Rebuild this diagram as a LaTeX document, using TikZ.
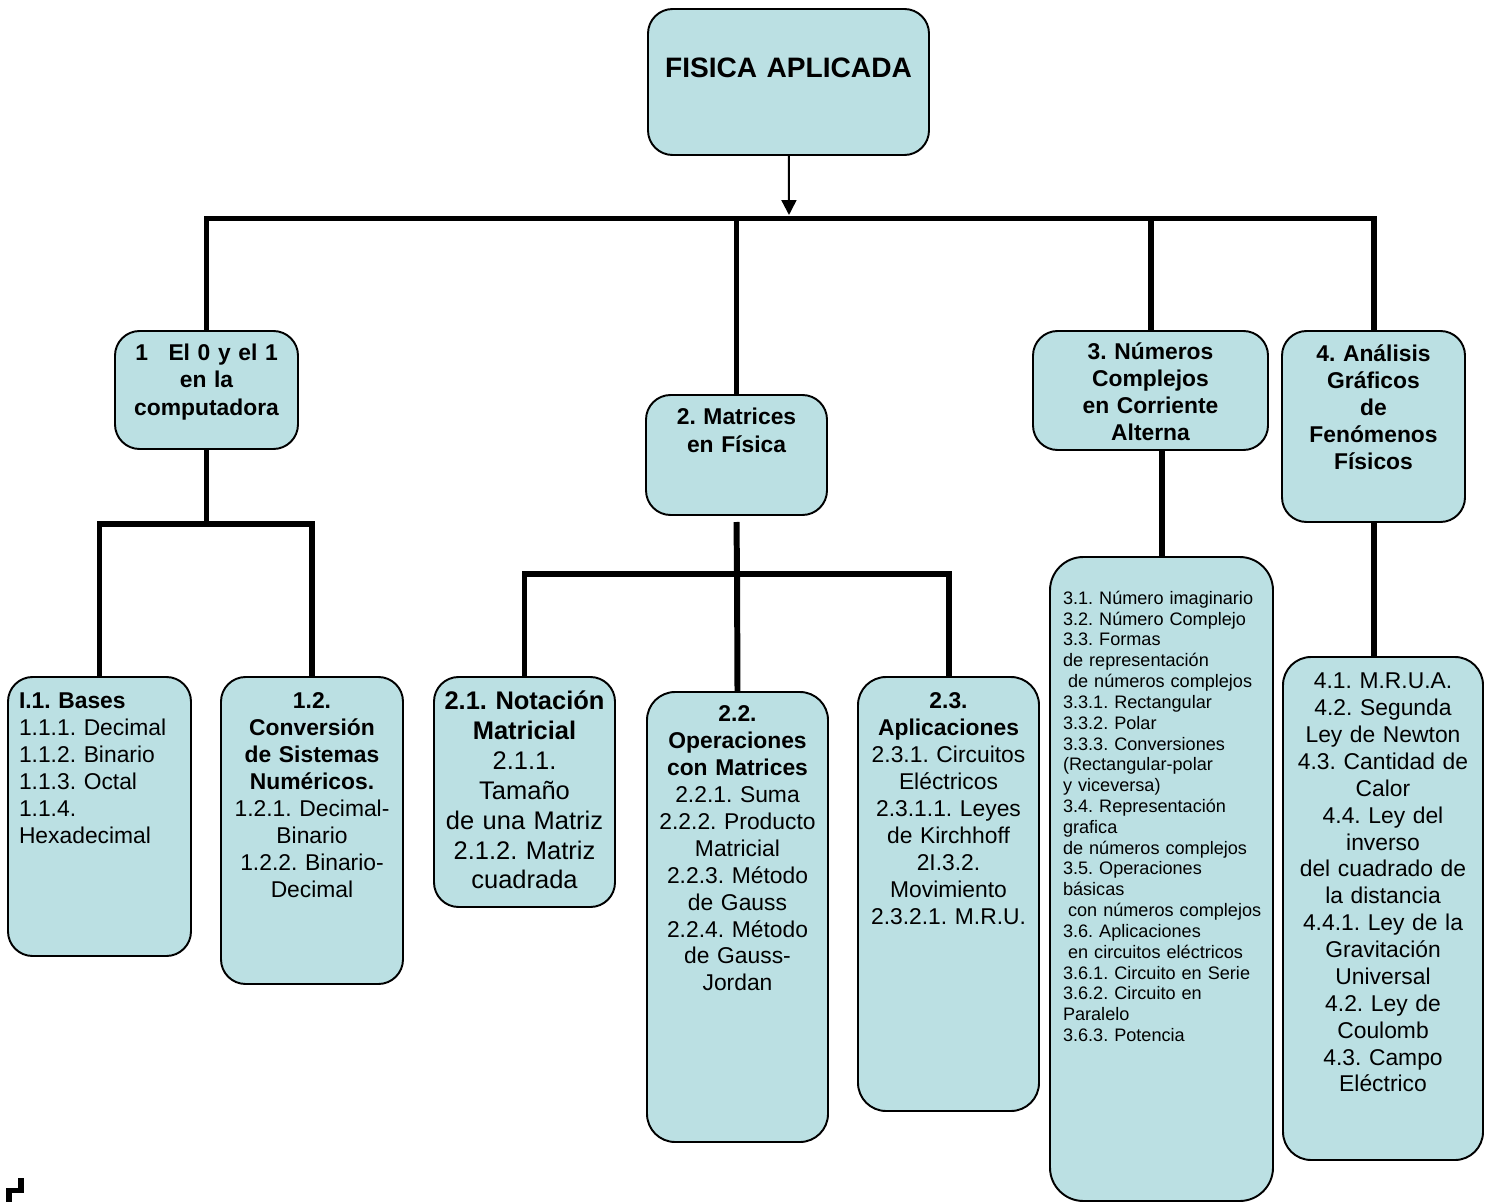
\documentclass[tikz,border=0pt]{standalone}
\usepackage{fontspec}
\setmainfont{Liberation Sans}
\usetikzlibrary{arrows.meta,fit,calc,positioning}
\definecolor{boxfill}{RGB}{187,224,227}
\frenchspacing
\begin{document}
\begin{tikzpicture}[x=0.02cm,y=-0.02cm,inner sep=0pt,outer sep=0pt,
box/.style={draw,line width=1.1pt,fill=boxfill,rounded corners=14pt,inner sep=0pt},
txt/.style={anchor=north,align=center,text width=4.4cm,font=\fontsize{13}{15.3}\selectfont},
txtl/.style={anchor=north west,align=left,text width=4.4cm,font=\fontsize{13}{15.3}\selectfont},
conn/.style={line width=3.4pt}]
\useasboundingbox (0,0) rectangle (1490,1202);
\node[box,fit={(648,9) (929,155)}] (title) {};
\node[box,fit={(115,331) (298,449)}] (b1) {};
\node[box,fit={(8,677) (191,956)}] (b11) {};
\node[box,fit={(221,677) (403,984)}] (b12) {};
\node[box,fit={(646,395) (827,515)}] (b2) {};
\node[box,fit={(434,677) (615,907)}] (b21) {};
\node[box,rounded corners=16pt,fit={(647,692) (828,1142)}] (b22) {};
\node[box,rounded corners=16pt,fit={(858,677) (1039,1111)}] (b23) {};
\node[box,fit={(1033,331) (1268,450)}] (b3) {};
\node[box,rounded corners=19pt,fit={(1050,557) (1273,1201)}] (b3s) {};
\node[box,fit={(1282,331) (1465,522)}] (b4) {};
\node[box,rounded corners=16pt,fit={(1283,657) (1483,1160)}] (b4s) {};
\node[txt,text width=5.4cm,font=\fontsize{16}{19}\selectfont\bfseries] (titletxt) at ($(title.north)+(0,49)$) {FISICA APLICADA};
\node[txt,font=\fontsize{13}{15.6}\selectfont\bfseries] (b1txt) at ($(b1.north)+(0,13)$) {1\hspace{0.9em}El 0 y el 1\\en la\\computadora};
\node[txtl] (b11txt) at ($(b11.north west)+(11,16)$) {\textbf{I.1. Bases}\\1.1.1. Decimal\\1.1.2. Binario\\1.1.3. Octal\\1.1.4.\\Hexadecimal};
\node[txt] (b12txt) at ($(b12.north)+(0,16)$) {\textbf{1.2.}\\\textbf{Conversión}\\\textbf{de Sistemas}\\\textbf{Numéricos.}\\1.2.1. Decimal-\\Binario\\1.2.2. Binario-\\Decimal};
\node[txt,font=\fontsize{13}{16}\selectfont\bfseries] (b2txt) at ($(b2.north)+(0,13)$) {2. Matrices\\en Física};
\node[txt,font=\fontsize{14.5}{17}\selectfont] (b21txt) at ($(b21.north)+(0,14)$) {\textbf{2.1. Notación}\\\textbf{Matricial}\\2.1.1.\\Tamaño\\de una Matriz\\2.1.2. Matriz\\cuadrada};
\node[txt] (b22txt) at ($(b22.north)+(0,14)$) {\textbf{2.2.}\\\textbf{Operaciones}\\\textbf{con Matrices}\\2.2.1. Suma\\2.2.2. Producto\\Matricial\\2.2.3. Método\\de Gauss\\2.2.4. Método\\de Gauss-\\Jordan};
\node[txt] (b23txt) at ($(b23.north)+(0,16)$) {\textbf{2.3.}\\\textbf{Aplicaciones}\\2.3.1. Circuitos\\Eléctricos\\2.3.1.1. Leyes\\de Kirchhoff\\2I.3.2.\\Movimiento\\2.3.2.1. M.R.U.};
\node[txt,font=\fontsize{13}{15.4}\selectfont\bfseries] (b3txt) at ($(b3.north)+(0,12)$) {3. Números\\Complejos\\en Corriente\\Alterna};
\node[txtl,font=\fontsize{10.3}{11.85}\selectfont] (b3stxt) at ($(b3s.north west)+(13,34)$) {3.1. Número imaginario\\3.2. Número Complejo\\3.3. Formas\\de representación\\\hspace*{0.28em}de números complejos\\3.3.1. Rectangular\\3.3.2. Polar\\3.3.3. Conversiones\\(Rectangular-polar\\y viceversa)\\3.4. Representación\\grafica\\de números complejos\\3.5. Operaciones\\básicas\\\hspace*{0.28em}con números complejos\\3.6. Aplicaciones\\\hspace*{0.28em}en circuitos eléctricos\\3.6.1. Circuito en Serie\\3.6.2. Circuito en\\Paralelo\\3.6.3. Potencia};
\node[txt,font=\fontsize{13}{15.4}\selectfont\bfseries] (b4txt) at ($(b4.north)+(0,14)$) {4. Análisis\\Gráficos\\de\\Fenómenos\\Físicos};
\node[txt] (b4stxt) at ($(b4s.north)+(0,16)$) {4.1. M.R.U.A.\\4.2. Segunda\\Ley de Newton\\4.3. Cantidad de\\Calor\\4.4. Ley del\\inverso\\del cuadrado de\\la distancia\\4.4.1. Ley de la\\Gravitación\\Universal\\4.2. Ley de\\Coulomb\\4.3. Campo\\Eléctrico};
\coordinate (hub) at (789,215);
\coordinate (bar) at (789,218.5);
\coordinate (j1) at (207,524);
\coordinate (j2) at (737,574);
\draw[-{Triangle[width=8.5pt,length=8.5pt]},line width=1.1pt] (title) -- (hub);
\draw[conn] (b1.north) |- (bar) -| (b4.north);
\draw[conn] (b2.north) -- (b2.north |- bar);
\draw[conn] (b3.north) -- (b3.north |- bar);
\draw[conn] (b1.south) -- (b1.south |- j1);
\draw[conn] (b11.north) |- (j1) -| (b12.north);
\draw[conn] ($(b2.south)+(0,7)$) -- (j2);
\draw[conn] (b21.north) |- (j2) -| (b23.north);
\draw[conn] (j2) -- (b22.north);
\draw[conn] (b3s.north) -- (b3s.north |- b3.south);
\draw[conn] (b4.south) -- (b4.south |- b4s.north);
\draw[conn] (9,1202) -- (9,1190.5) -- (21,1190.5) -- (21,1178);
\end{tikzpicture}
\end{document}
